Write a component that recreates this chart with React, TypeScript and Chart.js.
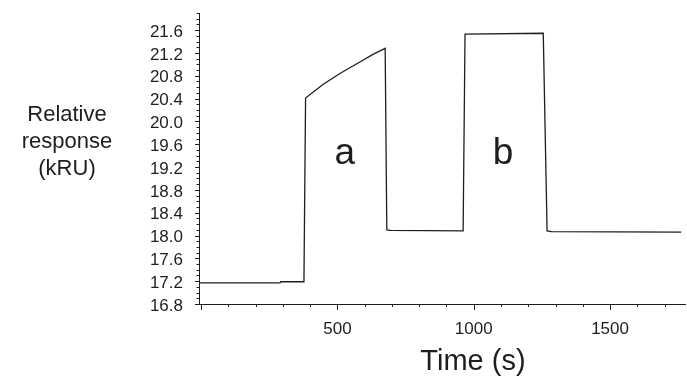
import React, { useEffect, useRef } from "react";
import { Chart, registerables } from "chart.js";

Chart.register(...registerables);

// Sensorgram trace: time (s) and relative response (kRU)
const times = [-8, 289, 292, 377, 383, 448, 509, 571, 632, 675, 681, 695, 961, 968, 1255, 1269, 1285, 1761];
const responses = [17.17, 17.17, 17.19, 17.19, 20.41, 20.65, 20.84, 21.01, 21.18, 21.28, 18.1, 18.09, 18.08, 21.53, 21.545, 18.08, 18.07, 18.06];

const xTickLabels = [500, 1000, 1500];
const yTickLabels = [16.8, 17.2, 17.6, 18.0, 18.4, 18.8, 19.2, 19.6, 20.0, 20.4, 20.8, 21.2, 21.6];
const yTitleLines = ["Relative", "response", "(kRU)"];
const xTitle = "Time (s)";
const regionLabels = [
  { text: "a", t: 527, v: 19.43 },
  { text: "b", t: 1107, v: 19.43 },
];

const FONT = "'Liberation Sans', Arial, Helvetica, sans-serif";
const INK = "#1e1e1e";

const decorPlugin = {
  id: "decor",
  afterDraw(chart: any) {
    const ctx = chart.ctx;
    const xs = chart.scales.x;
    const ys = chart.scales.y;
    const area = chart.chartArea;
    ctx.save();
    ctx.strokeStyle = INK;
    ctx.lineWidth = 1;
    // x ticks
    for (let v = 0; v <= xs.max + 0.001; v += 100) {
      const px = Math.round(xs.getPixelForValue(v)) + 0.5;
      const len = v % 500 === 0 ? 6 : 3;
      ctx.beginPath();
      ctx.moveTo(px, area.bottom);
      ctx.lineTo(px, area.bottom + len);
      ctx.stroke();
    }
    // y ticks
    const nY = Math.round((ys.max - ys.min) * 10);
    for (let i = 0; i <= nY; i++) {
      const v = ys.min + i / 10;
      const py = Math.round(ys.getPixelForValue(v)) + 0.5;
      const len = i % 4 === 0 ? 4 : 2.5;
      ctx.beginPath();
      ctx.moveTo(area.left, py);
      ctx.lineTo(area.left - len, py);
      ctx.stroke();
    }
    ctx.fillStyle = INK;
    // y title
    ctx.font = `22px ${FONT}`;
    ctx.textAlign = "center";
    ctx.textBaseline = "alphabetic";
    const baselines = [121, 148, 175];
    yTitleLines.forEach((line, i) => ctx.fillText(line, 67, baselines[i]));
    // x title
    ctx.font = `29px ${FONT}`;
    ctx.fillText(xTitle, xs.getPixelForValue(997), 370);
    // region labels
    ctx.font = `37px ${FONT}`;
    ctx.textBaseline = "middle";
    regionLabels.forEach((l) => {
      ctx.fillText(l.text, xs.getPixelForValue(l.t), ys.getPixelForValue(l.v));
    });
    ctx.restore();
  },
};

export default function App() {
  const ref = useRef<HTMLCanvasElement | null>(null);
  useEffect(() => {
    if (!ref.current) return;
    const chart = new Chart(ref.current, {
      type: "line",
      data: {
        datasets: [
          {
            data: times.map((t, i) => ({ x: t, y: responses[i] })),
            borderColor: INK,
            borderWidth: 1.3,
            pointRadius: 0,
            tension: 0,
            fill: false,
          },
        ],
      },
      options: {
        responsive: false,
        animation: false,
        layout: { padding: { top: 13, right: 2, left: 0, bottom: 0 } },
        plugins: { legend: { display: false }, tooltip: { enabled: false } },
        scales: {
          x: {
            type: "linear",
            min: -8,
            max: 1775,
            afterFit: (s: any) => {
              s.height = 74;
              s.paddingLeft = 0;
              s.paddingRight = 0;
            },
            border: { color: INK, width: 1 },
            grid: { drawOnChartArea: false, drawTicks: true, tickLength: 6, tickColor: "rgba(0,0,0,0)" },
            ticks: {
              stepSize: 100,
              autoSkip: false,
              maxRotation: 0,
              padding: 9,
              color: INK,
              font: { family: FONT, size: 17 },
              callback: (v: any) => (xTickLabels.includes(Math.round(Number(v))) ? String(Math.round(Number(v))) : ""),
            },
          },
          y: {
            type: "linear",
            min: 16.8,
            max: 21.9,
            afterFit: (s: any) => {
              s.width = 199;
              s.paddingTop = 0;
              s.paddingBottom = 0;
            },
            border: { color: INK, width: 1 },
            grid: { drawOnChartArea: false, drawTicks: true, tickLength: 4, tickColor: "rgba(0,0,0,0)" },
            ticks: {
              stepSize: 0.1,
              autoSkip: false,
              padding: 12,
              labelOffset: 2,
              color: INK,
              font: { family: FONT, size: 17 },
              callback: (v: any) => {
                const n = Math.round(Number(v) * 10) / 10;
                return yTickLabels.some((l) => Math.abs(l - n) < 1e-6) ? n.toFixed(1) : "";
              },
            },
          },
        },
      },
      plugins: [decorPlugin],
    });
    return () => chart.destroy();
  }, []);
  return (
    <div style={{ position: "fixed", left: 0, top: 0, width: 687, height: 378, background: "#fff" }}>
      <canvas ref={ref} width={687} height={378} style={{ display: "block", width: 687, height: 378 }} />
    </div>
  );
}
